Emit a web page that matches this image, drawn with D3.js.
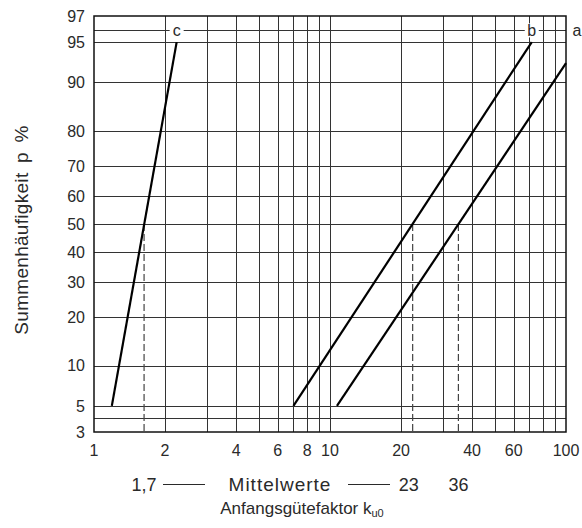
<!DOCTYPE html>
<html>
<head>
<meta charset="utf-8">
<script src="https://cdn.jsdelivr.net/npm/d3@7"></script>
<style>
  body { margin: 0; background: #fff; }
  svg { display: block; font-family: "Liberation Sans", Arial, sans-serif; }
</style>
</head>
<body>
<svg id="chart" width="582" height="528"></svg>
<script>
// data
const xTicks = [1, 2, 4, 6, 8, 10, 20, 40, 60, 100];
const xGrid = [2, 3, 4, 5, 6, 7, 8, 9, 10, 20, 30, 40, 50, 60, 70, 80, 90];
const yTicks = [3, 5, 10, 20, 30, 40, 50, 60, 70, 80, 90, 95, 97];
const yGrid = [4, 5, 10, 20, 30, 40, 50, 60, 70, 80, 90, 95, 96];
const labelLine = 96;

// straight lines on probability paper: [k, p]
const seriesNames = ["c", "b", "a"];
const lineC = [[1.19, 5], [2.24, 95]];
const lineB = [[7.0, 5], [71.6, 95]];
const lineA = [[10.7, 5], [100, 92.7]];
const means = [1.63, 22.4, 35.0];
const meanLabels = ["1,7", "23", "36"];

// inverse normal cdf (Acklam)
function probit(p) {
  const a = [-39.69683028665376, 220.9460984245205, -275.9285104469687, 138.3577518672690, -30.66479806614716, 2.506628277459239];
  const b = [-54.47609879822406, 161.5858368580409, -155.6989798598866, 66.80131188771972, -13.28068155288572];
  const c = [-0.007784894002430293, -0.3223964580411365, -2.400758277161838, -2.549732539343734, 4.374664141464968, 2.938163982698783];
  const d = [0.007784695709041462, 0.3224671290700398, 2.445134137142996, 3.754408661907416];
  const pl = 0.02425;
  let q, r;
  if (p < pl) {
    q = Math.sqrt(-2 * Math.log(p));
    return (((((c[0]*q+c[1])*q+c[2])*q+c[3])*q+c[4])*q+c[5]) / ((((d[0]*q+d[1])*q+d[2])*q+d[3])*q+1);
  }
  if (p <= 1 - pl) {
    q = p - 0.5; r = q * q;
    return (((((a[0]*r+a[1])*r+a[2])*r+a[3])*r+a[4])*r+a[5])*q / (((((b[0]*r+b[1])*r+b[2])*r+b[3])*r+b[4])*r+1);
  }
  q = Math.sqrt(-2 * Math.log(1 - p));
  return -(((((c[0]*q+c[1])*q+c[2])*q+c[3])*q+c[4])*q+c[5]) / ((((d[0]*q+d[1])*q+d[2])*q+d[3])*q+1);
}

const m = { left: 94, right: 566, top: 16, bottom: 432 };

const x = d3.scaleLog().domain([1, 100]).range([m.left, m.right]);
const zScale = d3.scaleLinear().domain([probit(0.03), probit(0.97)]).range([m.bottom, m.top]);
const y = p => zScale(probit(p / 100));

const svg = d3.select("#chart");
const textColor = "#2a2a2a";

// grid
const grid = svg.append("g").attr("stroke", "#333").attr("stroke-width", 1);
grid.selectAll("line.v")
  .data(xGrid)
  .join("line")
  .attr("class", "v")
  .attr("x1", d => Math.round(x(d)) + 0.5)
  .attr("x2", d => Math.round(x(d)) + 0.5)
  .attr("y1", m.top)
  .attr("y2", m.bottom);
grid.selectAll("line.h")
  .data(yGrid)
  .join("line")
  .attr("class", "h")
  .attr("x1", m.left)
  .attr("x2", m.right)
  .attr("y1", d => Math.round(y(d)) + 0.5)
  .attr("y2", d => Math.round(y(d)) + 0.5);

// dashed mean lines
svg.append("g")
  .selectAll("line")
  .data(means)
  .join("line")
  .attr("x1", d => x(d))
  .attr("x2", d => x(d))
  .attr("y1", y(50))
  .attr("y2", m.bottom)
  .attr("stroke", "#444")
  .attr("stroke-width", 1.2)
  .attr("stroke-dasharray", "7,3");

// frame
svg.append("rect")
  .attr("x", m.left).attr("y", m.top)
  .attr("width", m.right - m.left).attr("height", m.bottom - m.top)
  .attr("fill", "none").attr("stroke", "#111").attr("stroke-width", 1.5);

// series
const line = d3.line().x(d => x(d[0])).y(d => y(d[1]));
const series = [lineC, lineB, lineA];
svg.append("g")
  .selectAll("path")
  .data(series)
  .join("path")
  .attr("d", line)
  .attr("fill", "none")
  .attr("stroke", "#000")
  .attr("stroke-width", 2.2);

// series labels on the 96 % line
const labelX = [x(lineC[1][0]), x(lineB[1][0]), m.right + 11];
const lbl = svg.append("g").attr("font-size", 16).attr("fill", textColor);
seriesNames.forEach((n, i) => {
  if (labelX[i] < m.right) {
    lbl.append("rect")
      .attr("x", labelX[i] - 7).attr("y", y(labelLine) - 7)
      .attr("width", 14).attr("height", 14)
      .attr("fill", "#fff");
  }
  lbl.append("text")
    .attr("x", labelX[i]).attr("y", y(labelLine))
    .attr("text-anchor", "middle")
    .attr("dy", "0.35em")
    .text(n);
});

// y tick labels
svg.append("g")
  .attr("font-size", 16).attr("fill", textColor)
  .selectAll("text")
  .data(yTicks)
  .join("text")
  .attr("x", m.left - 9)
  .attr("y", d => y(d))
  .attr("dy", "0.36em")
  .attr("text-anchor", "end")
  .text(d => d);

// x tick labels
svg.append("g")
  .attr("font-size", 16).attr("fill", textColor)
  .selectAll("text")
  .data(xTicks)
  .join("text")
  .attr("x", d => x(d))
  .attr("y", m.bottom + 24)
  .attr("text-anchor", "middle")
  .text(d => d);

// Mittelwerte row
const rowY = 491;
const row = svg.append("g").attr("font-size", 18).attr("fill", textColor);
row.selectAll("text.m")
  .data(means)
  .join("text")
  .attr("class", "m")
  .attr("x", (d, i) => x(d) - (i === 1 ? 4 : 0))
  .attr("y", rowY)
  .attr("text-anchor", "middle")
  .text((d, i) => meanLabels[i]);
row.append("text")
  .attr("x", 280).attr("y", rowY)
  .attr("font-size", 19)
  .attr("letter-spacing", 1)
  .attr("text-anchor", "middle")
  .text("Mittelwerte");
[[163, 205], [348, 390]].forEach(s => {
  row.append("line")
    .attr("x1", s[0]).attr("x2", s[1])
    .attr("y1", rowY - 6.5).attr("y2", rowY - 6.5)
    .attr("stroke", textColor).attr("stroke-width", 1);
});

// axis titles
const xt = svg.append("text")
  .attr("x", 302).attr("y", 514)
  .attr("font-size", 17).attr("fill", textColor)
  .attr("text-anchor", "middle");
xt.append("tspan").text("Anfangsgütefaktor k");
xt.append("tspan").attr("font-size", 11).attr("dy", 3).text("u0");

svg.append("text")
  .attr("transform", "translate(28,230) rotate(-90)")
  .attr("font-size", 19).attr("fill", textColor)
  .attr("word-spacing", 4)
  .attr("letter-spacing", 0.3)
  .attr("text-anchor", "middle")
  .text("Summenhäufigkeit p %");
</script>
</body>
</html>
